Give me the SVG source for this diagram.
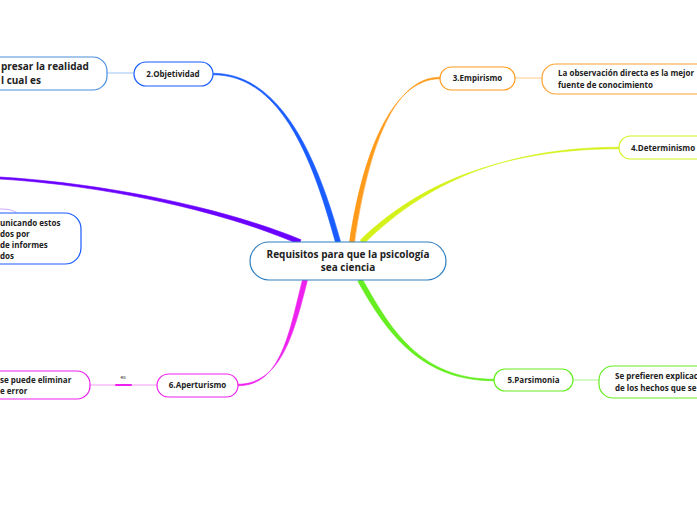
<svg xmlns="http://www.w3.org/2000/svg" width="697" height="520" viewBox="0 0 697 520">
<style>
.t{font-family:"Open Sans","Noto Sans",sans-serif;font-weight:bold;font-size:8px;fill:#222}
.c{text-anchor:middle}
.n{fill:#fff;stroke-width:1.2}
.br{stroke-linejoin:round;stroke-width:0.6}
.ln{fill:none;stroke-linecap:round}
</style>
<rect width="697" height="520" fill="#fff"/>
<g id="connectors">
<path class="br" fill="#1a5cff" stroke="#1a5cff" d="M213,73.25 C285,73.25 320.5,169.5 340.5,241.5 L335.5,242.5 C315.5,170.5 285,74.75 213,74.75 Z"/>
<path class="br" fill="#ff9a1a" stroke="#ff9a1a" d="M440,77.25 C390,77.25 366.5,160 354.5,242 L349.5,242 C361.5,160 390,78.75 440,78.75 Z"/>
<path class="br" fill="#d4f21a" stroke="#d4f21a" d="M619,147.25 C480,147.25 407,201.5 363.8,243.8 L360.2,240.2 C403,198.5 480,148.75 619,148.75 Z"/>
<path class="br" fill="#6a00ff" stroke="#6a00ff" d="M0,177 C100,183 219,206 301,239.7 L299,244.3 C221,210 100,185 0,179 Z"/>
<path class="br" fill="#ee22ee" stroke="#ee22ee" d="M238,384.25 C282,384.25 294.4,330.6 307.4,280.6 L302.6,279.4 C289.6,329.4 282,385.75 238,385.75 Z"/>
<path class="br" fill="#66ee22" stroke="#66ee22" d="M494,379.25 C420,379.25 390.2,328.8 362.2,278.8 L357.8,281.2 C385.8,331.2 420,380.75 494,380.75 Z"/>
<path class="ln" d="M107,73 L134,73" stroke="#9cc4f5" stroke-width="1"/>
<path class="ln" d="M515,78 L542,78" stroke="#ffc98a" stroke-width="1"/>
<path class="ln" d="M573,380 L599,380" stroke="#aaf28a" stroke-width="1"/>
<path class="ln" d="M90,385 L157,385" stroke="#f59af5" stroke-width="1"/>
<path class="ln" d="M116,385 L131,385" stroke="#ee22ee" stroke-width="2"/>
<path class="ln" d="M0,209 C8,209 14,210 18,214" stroke="#c9a8ff" stroke-width="1"/>
<text class="t c" x="123" y="379" style="font-size:5px;font-weight:normal">es</text>
</g>
<g id="central">
<rect class="n" x="250" y="242" width="196" height="38" rx="19" stroke="#2d7ec0"/>
<text class="t c" x="348" y="258" style="font-size:10px">Requisitos para que la psicología</text>
<text class="t c" x="348" y="271" style="font-size:10px">sea ciencia</text>
</g>
<g id="objetividad">
<rect class="n" x="134" y="62" width="79" height="24" rx="12" stroke="#1a5cff"/>
<text class="t c" x="173" y="77">2.Objetividad</text>
</g>
<g id="objetividad-leaf">
<rect class="n" x="-60" y="57" width="167" height="33" rx="14" stroke="#4a8ee0"/>
<text class="t" x="1" y="70" style="font-size:10px">presar la realidad</text>
<text class="t" x="1" y="84" style="font-size:10px">l cual es</text>
</g>
<g id="empirismo">
<rect class="n" x="440" y="67" width="75" height="23" rx="11.5" stroke="#ff9a1a"/>
<text class="t c" x="477.5" y="81">3.Empirismo</text>
</g>
<g id="empirismo-leaf">
<rect class="n" x="542" y="64" width="180" height="30" rx="14" stroke="#ffa030"/>
<text class="t" x="558" y="76">La observación directa es la mejor</text>
<text class="t" x="558" y="88">fuente de conocimiento</text>
</g>
<g id="determinismo">
<rect class="n" x="619" y="136" width="100" height="23" rx="11.5" stroke="#d4f21a"/>
<text class="t" x="631" y="151">4.Determinismo</text>
</g>
<g id="comunicando">
<rect class="n" x="-40" y="213" width="121" height="51" rx="16" stroke="#1a5cff"/>
<text class="t" x="0" y="226">unicando estos</text>
<text class="t" x="0" y="237">dos por</text>
<text class="t" x="0" y="248">de informes</text>
<text class="t" x="0" y="259">dos</text>
</g>
<g id="aperturismo">
<rect class="n" x="157" y="374" width="81" height="23" rx="11.5" stroke="#ee22ee"/>
<text class="t c" x="197.5" y="388">6.Aperturismo</text>
</g>
<g id="aperturismo-leaf">
<rect class="n" x="-60" y="371" width="150" height="28" rx="13" stroke="#ee22ee"/>
<text class="t" x="0" y="383">se puede eliminar</text>
<text class="t" x="0" y="394">e error</text>
</g>
<g id="parsimonia">
<rect class="n" x="494" y="369" width="79" height="22" rx="11" stroke="#66ee22"/>
<text class="t c" x="533.5" y="383">5.Parsimonia</text>
</g>
<g id="parsimonia-leaf">
<rect class="n" x="599" y="366" width="130" height="32" rx="14" stroke="#66ee22"/>
<text class="t" x="615" y="379">Se prefieren explicaciones</text>
<text class="t" x="615" y="391">de los hechos que se</text>
</g>
</svg>
